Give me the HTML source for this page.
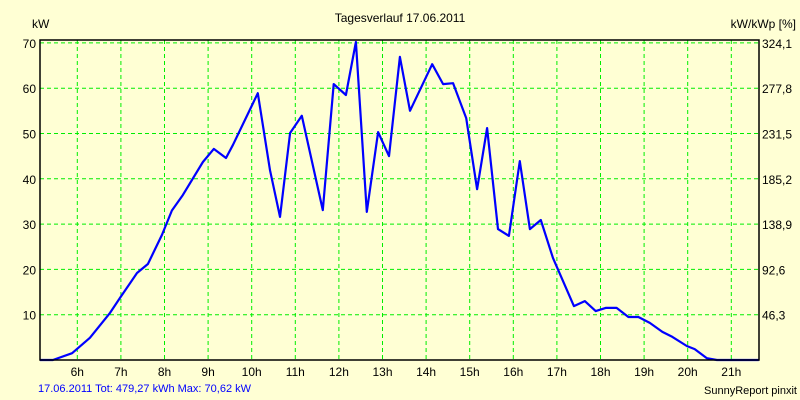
<!DOCTYPE html>
<html><head><meta charset="utf-8"><style>
body{margin:0;background:#ffffd4;}
svg{display:block;font-family:"Liberation Sans",Arial,sans-serif;}
</style></head><body>
<svg width="800" height="400" viewBox="0 0 800 400">
<rect x="0" y="0" width="800" height="400" fill="#ffffd4"/>
<text x="400" y="22" text-anchor="middle" font-size="12">Tagesverlauf 17.06.2011</text>
<text x="32" y="28" font-size="12">kW</text>
<text x="796" y="28" text-anchor="end" font-size="12">kW/kWp [%]</text>
<g id="grid"></g>
<g id="ticks"></g>
<path id="line" fill="none" stroke="#0000ff" stroke-width="2.2" stroke-linejoin="round"/>
<rect x="40" y="40" width="719" height="320" fill="none" stroke="#000" stroke-width="1.5"/>
<text x="38" y="392" font-size="11" fill="#0000ff">17.06.2011 Tot: 479,27 kWh Max: 70,62 kW</text>
<text x="797" y="394" text-anchor="end" font-size="11">SunnyReport pinxit</text>
</svg>
<script>
const hours=[5.145,5.44,5.88,6.29,6.75,6.98,7.37,7.62,7.94,8.17,8.42,8.88,9.13,9.41,9.57,10.14,10.42,10.65,10.88,11.15,11.63,11.88,12.16,12.39,12.64,12.90,13.15,13.40,13.63,14.14,14.39,14.62,14.92,15.17,15.40,15.65,15.90,16.15,16.38,16.63,16.91,17.39,17.64,17.89,18.12,18.37,18.64,18.87,19.13,19.42,19.65,19.98,20.16,20.44,20.67,21.63];
const power=[0,0,1.5,4.9,10.4,13.7,19.2,21.2,27.6,33,36.4,43.7,46.6,44.6,47.5,58.9,41.9,31.6,50.1,53.9,33.1,60.9,58.5,70.2,32.7,50.3,45,66.9,55,65.3,60.9,61.1,53.4,37.7,51.2,28.9,27.4,43.9,28.9,30.9,22.5,11.9,13,10.8,11.5,11.5,9.5,9.5,8.2,6.2,5.1,3.1,2.4,0.4,0,0];
const xTicks=[6,7,8,9,10,11,12,13,14,15,16,17,18,19,20,21];
const yTicks=[10,20,30,40,50,60,70];
const rightLabels=["46,3","92,6","138,9","185,2","231,5","277,8","324,1"];
const X=h=>77.3+(h-6)*43.6;
const Y=v=>360-v*4.53;
const NS="http://www.w3.org/2000/svg";
const grid=document.getElementById('grid'),ticks=document.getElementById('ticks');
function mk(tag,attrs,parent){const e=document.createElementNS(NS,tag);for(const k in attrs)e.setAttribute(k,attrs[k]);parent.appendChild(e);return e;}
xTicks.forEach(h=>{
 const l=mk('line',{x1:X(h),x2:X(h),y1:40,y2:360,stroke:'#00ee00','stroke-dasharray':'4,3'},grid);
 
 
 const t=mk('text',{x:X(h),y:376,'text-anchor':'middle','font-size':12},ticks);t.textContent=h+'h';
 
 
});
yTicks.forEach((v,i)=>{
 const l=mk('line',{x1:40,x2:759,y1:Y(v),y2:Y(v),stroke:'#00ee00','stroke-dasharray':'4,3'},grid);
 
 
 const t=mk('text',{x:36,y:Y(v)+5,'text-anchor':'end','font-size':12},ticks);t.textContent=v;
 
 
 const r=mk('text',{x:762,y:Y(v)+5,'font-size':12},ticks);r.textContent=rightLabels[i];
 
 
});
document.getElementById('line').setAttribute('d',hours.map((h,i)=>(i?'L':'M')+X(h).toFixed(1)+','+Y(power[i]).toFixed(1)).join(''));
</script>
</body></html>
